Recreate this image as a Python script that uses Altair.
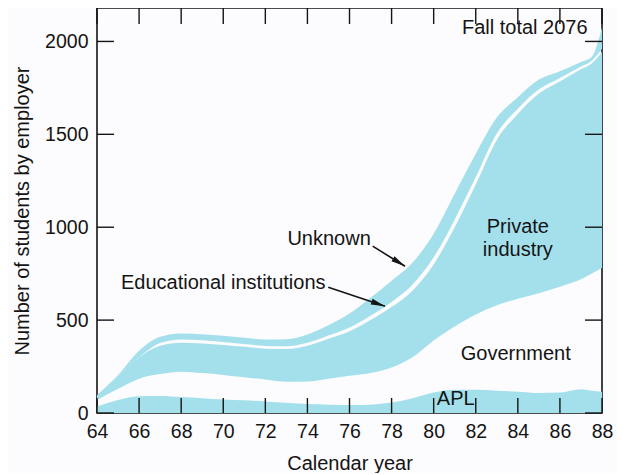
import altair as alt
import pandas as pd

# ---- data ----
years = [64, 65, 66, 67, 68, 69, 70, 71, 72, 73, 74, 75, 76, 77, 78, 79, 80,
         81, 82, 83, 84, 85, 86, 87, 87.5, 88]
apl = [35, 70, 90, 92, 86, 80, 73, 68, 62, 55, 48, 45, 43, 45, 56, 80, 110,
       125, 125, 120, 115, 108, 110, 128, 120, 115]
government = [35, 60, 95, 118, 136, 135, 132, 124, 118, 113, 122, 140, 157, 170,
              189, 220, 280, 340, 405, 460, 500, 537, 570, 592, 630, 665]
private = [25, 70, 115, 152, 156, 159, 161, 164, 166, 176, 192, 215, 240, 285,
           325, 360, 410, 535, 700, 890, 995, 1075, 1105, 1130, 1130, 1165]
educational = [0, 0, 0, 15, 18, 17, 16, 15, 15, 15, 16, 17, 20, 24, 28, 32, 38,
               42, 40, 35, 28, 22, 18, 15, 15, 15]
unknown = [0, 5, 35, 33, 32, 33, 34, 34, 35, 38, 44, 55, 75, 96, 114, 118, 127,
           138, 125, 85, 62, 53, 37, 25, 20, 116]

x_ticks = list(range(64, 89, 2))
y_ticks = [0, 500, 1000, 1500, 2000]

labels = ["Fall total 2076", "Private\nindustry", "Government", "APL",
          "Unknown", "Educational institutions"]
label_x = [84.33, 84.0, 83.9, 81.05, 75.03, 70.0]
label_y = [2070, 1000, 319, 73, 934, 700]

arrow_names = ["Unknown", "Educational institutions"]
arrow_x = [77.10, 74.99]
arrow_y = [898, 677]
arrow_x2 = [78.64, 77.69]
arrow_y2 = [790, 575]
arrow_angle = [121.8, 108.5]

# ---- build tables ----
c1 = [a for a in apl]
c2 = [a + b for a, b in zip(c1, government)]
c3 = [a + b for a, b in zip(c2, private)]
c4 = [a + b for a, b in zip(c3, educational)]
c5 = [a + b for a, b in zip(c4, unknown)]

rows = []
for i, yr in enumerate(years):
    rows.append({"year": yr, "band": "APL", "lo": 0, "hi": c1[i]})
    rows.append({"year": yr, "band": "Private industry", "lo": c2[i], "hi": c3[i]})
    rows.append({"year": yr, "band": "Unknown", "lo": c4[i], "hi": c5[i]})
bands = pd.DataFrame(rows)

W, H = 505, 405
BLUE = "#a3e0ec"
BG = "#fcfbfd"
FONT = "Liberation Sans"
INK = "#141414"

xscale = alt.Scale(domain=[64, 88], nice=False, zero=False)
yscale = alt.Scale(domain=[0, 2180], nice=False)
xaxis = alt.Axis(values=x_ticks, title="Calendar year", labelPadding=9,
                 titlePadding=13, format="d", labelFlush=False,
                 labelOverlap=False, labelBound=False)
yaxis = alt.Axis(values=y_ticks, title="Number of students by employer",
                 labelPadding=9, titlePadding=12, format="d", labelFlush=False,
                 labelOverlap=False, labelBound=False)


def X(field):
    return alt.X(field, scale=xscale, axis=xaxis)


def Y(field):
    return alt.Y(field, scale=yscale, axis=yaxis)


area = alt.Chart(bands).mark_area(color=BLUE, interpolate="monotone", opacity=1).encode(
    x=X("year:Q"),
    y=Y("hi:Q"),
    y2="lo:Q",
    detail="band:N",
)

xt = alt.Chart(pd.DataFrame({"year": x_ticks})).mark_rule(color=INK, strokeWidth=1.4)
top_ticks = xt.encode(x=X("year:Q"), y=alt.value(0), y2=alt.value(16))
bottom_ticks = xt.encode(x=X("year:Q"), y=alt.value(H), y2=alt.value(H - 15))
yt = alt.Chart(pd.DataFrame({"hi": y_ticks})).mark_rule(color=INK, strokeWidth=1.4)
left_ticks = yt.encode(y=Y("hi:Q"), x=alt.value(0), x2=alt.value(17))
right_ticks = yt.encode(y=Y("hi:Q"), x=alt.value(W), x2=alt.value(W - 17))

text_df = pd.DataFrame({"label": labels, "year": label_x, "hi": label_y})
texts = alt.Chart(text_df).mark_text(
    font=FONT, fontSize=20, color=INK, align="center", baseline="middle",
    lineBreak="\n", lineHeight=23,
).encode(
    x=X("year:Q"),
    y=Y("hi:Q"),
    text="label:N",
)

arrow_df = pd.DataFrame({"name": arrow_names, "year": arrow_x, "hi": arrow_y,
                         "year2": arrow_x2, "hi2": arrow_y2, "angle": arrow_angle})
arrow_lines = alt.Chart(arrow_df).mark_rule(color=INK, strokeWidth=1.6).encode(
    x=X("year:Q"),
    y=Y("hi:Q"),
    x2="year2:Q",
    y2="hi2:Q",
)
arrow_heads = alt.Chart(arrow_df).mark_point(
    shape="M0,0L0.42,2L-0.42,2Z", filled=True, color=INK, size=200, opacity=1,
).encode(
    x=X("year2:Q"),
    y=Y("hi2:Q"),
    angle=alt.Angle("angle:Q", scale=None),
)

chart = alt.layer(
    area, top_ticks, bottom_ticks, left_ticks, right_ticks, texts, arrow_lines, arrow_heads
).properties(
    width=W, height=H,
    background=BG,
    padding={"left": 89, "top": 0, "right": 15, "bottom": 60},
    autosize=alt.AutoSizeParams(type="none"),
).configure_view(
    stroke=INK, strokeWidth=1.6, fill=BG,
).configure_axis(
    grid=False, domain=False, ticks=False,
    labelFont=FONT, labelFontSize=19.5, labelColor=INK,
    titleFont=FONT, titleFontSize=20, titleColor=INK, titleFontWeight="normal",
)

chart.save("out.html", embed_options={"renderer": "svg", "actions": False})
